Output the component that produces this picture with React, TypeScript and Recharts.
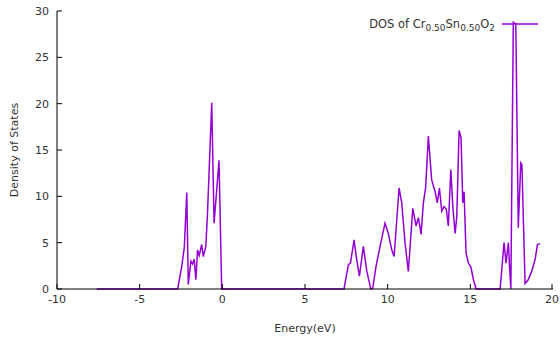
import { LineChart, Line, XAxis, YAxis } from "recharts";

const energy = [
  -7.6, -2.7, -2.45, -2.3, -2.15, -2.06, -1.9, -1.8, -1.7, -1.6, -1.5, -1.4, -1.25, -1.15, -1.0, -0.9,
  -0.64, -0.5, -0.34, -0.2, -0.04, 7.36, 7.62, 7.75, 7.97, 8.1, 8.29, 8.53, 8.74, 8.98, 9.1, 9.3,
  9.54, 9.84, 10.04, 10.25, 10.39, 10.69, 10.85, 11.05, 11.25, 11.52, 11.72, 11.86, 12.02, 12.16,
  12.3, 12.46, 12.66, 12.87, 13.0, 13.13, 13.27, 13.41, 13.55, 13.67, 13.82, 13.94, 14.08, 14.18,
  14.32, 14.44, 14.54, 14.62, 14.74, 14.88, 15.03, 15.19, 15.35, 16.8, 17.04, 17.16, 17.3, 17.36,
  17.45, 17.6, 17.75, 17.9, 18.05, 18.12, 18.31, 18.5, 18.71, 18.92, 19.06, 19.22,
];

const dos = [
  0, 0, 2.5, 4.5, 10.4, 0.5, 3.0, 2.7, 3.2, 1.0, 4.2, 3.6, 4.8, 3.5, 4.6, 8,
  20.1, 7.1, 10.7, 13.9, 0, 0, 2.6, 2.8, 5.3, 3.5, 1.4, 4.6, 1.9, 0, 0.1, 2.5,
  4.6, 7.1, 6.0, 4.2, 3.5, 10.9, 9.3, 5.0, 1.9, 8.7, 6.8, 7.7, 5.9, 9.3,
  11, 16.5, 11.8, 10.5, 9.3, 10.9, 8.4, 8.9, 8.6, 6.8, 12.9, 8.9, 6.0, 7.8,
  17.1, 16.3, 9.3, 10.5, 3.9, 2.8, 2.4, 1.0, 0, 0, 5.0, 2.8, 5.0, 2.8,
  0, 28.8, 28.6, 6.6, 13.6, 13.4, 0.6, 1.0, 1.9, 3.2, 4.8, 4.9,
];

const xTicks = [-10, -5, 0, 5, 10, 15, 20];
const yTicks = [0, 5, 10, 15, 20, 25, 30];

const data = energy.map((e, i) => ({ energy: e, dos: dos[i] }));

const font = "DejaVu Sans, sans-serif";
const textColor = "#333";
const tickLen = 5;

const BottomTick = (p: any) => (
  <g>
    <line x1={p.x} y1={p.y - 6} x2={p.x} y2={p.y - 6 - tickLen} stroke="#000" />
    <text x={p.x} y={p.y} dy="0.75em" textAnchor="middle" fontSize={11} fontFamily={font} fill={textColor}>
      {p.payload.value}
    </text>
  </g>
);

const LeftTick = (p: any) => (
  <g>
    <line x1={p.x + 8} y1={p.y} x2={p.x + 8 + tickLen} y2={p.y} stroke="#000" />
    <text x={p.x} y={p.y} dy="0.35em" textAnchor="end" fontSize={11} fontFamily={font} fill={textColor}>
      {p.payload.value}
    </text>
  </g>
);

const TopTick = (p: any) => <line x1={p.x} y1={p.y} x2={p.x} y2={p.y + tickLen} stroke="#000" />;
const RightTick = (p: any) => <line x1={p.x} y1={p.y} x2={p.x - tickLen} y2={p.y} stroke="#000" />;

const YLabel = (p: any) => {
  const vb = p.viewBox;
  const cx = vb.x + 14;
  const cy = vb.y + vb.height / 2;
  return (
    <text x={cx} y={cy} transform={`rotate(-90 ${cx} ${cy})`} textAnchor="middle" dominantBaseline="central"
      fontSize={11} fontFamily={font} fill={textColor}>
      Density of States
    </text>
  );
};

export default function App() {
  return (
    <div style={{ position: "absolute", left: 0, top: 0, background: "#fff" }}>
      <LineChart width={560} height={339} data={data} margin={{ top: 11, right: 7, left: 0, bottom: 0 }}>
        <XAxis
          dataKey="energy"
          type="number"
          domain={[-10, 20]}
          ticks={xTicks}
          height={50}
          tickSize={0}
          tickMargin={6}
          tick={BottomTick}
          axisLine={{ stroke: "#000" }}
          label={{ value: "Energy(eV)", position: "insideBottom", offset: 7, fontSize: 11, fontFamily: font, fill: textColor }}
        />
        <XAxis
          xAxisId="top"
          orientation="top"
          type="number"
          domain={[-10, 20]}
          ticks={xTicks}
          height={0}
          tickSize={0}
          tickMargin={0}
          tick={TopTick}
          axisLine={{ stroke: "#000" }}
        />
        <YAxis
          type="number"
          domain={[0, 30]}
          ticks={yTicks}
          width={57}
          tickSize={0}
          tickMargin={8}
          tick={LeftTick}
          axisLine={{ stroke: "#000" }}
          label={<YLabel />}
        />
        <YAxis
          yAxisId="right"
          orientation="right"
          type="number"
          domain={[0, 30]}
          ticks={yTicks}
          width={0}
          tickSize={0}
          tickMargin={0}
          tick={RightTick}
          axisLine={{ stroke: "#000" }}
        />
        <Line
          type="linear"
          dataKey="dos"
          stroke="#9400d3"
          strokeWidth={1.5}
          dot={false}
          isAnimationActive={false}
        />
        <g>
          <text x={495} y={28} textAnchor="end" fontSize={11.5} fontFamily={font} fill={textColor}>
            DOS of Cr<tspan dy={3} fontSize={9}>0.50</tspan>
            <tspan dy={-3}>Sn</tspan>
            <tspan dy={3} fontSize={9}>0.50</tspan>
            <tspan dy={-3}>O</tspan>
            <tspan dy={3} fontSize={9}>2</tspan>
          </text>
          <line x1={502} y1={24} x2={538} y2={24} stroke="#9400d3" strokeWidth={1.5} />
        </g>
      </LineChart>
    </div>
  );
}
